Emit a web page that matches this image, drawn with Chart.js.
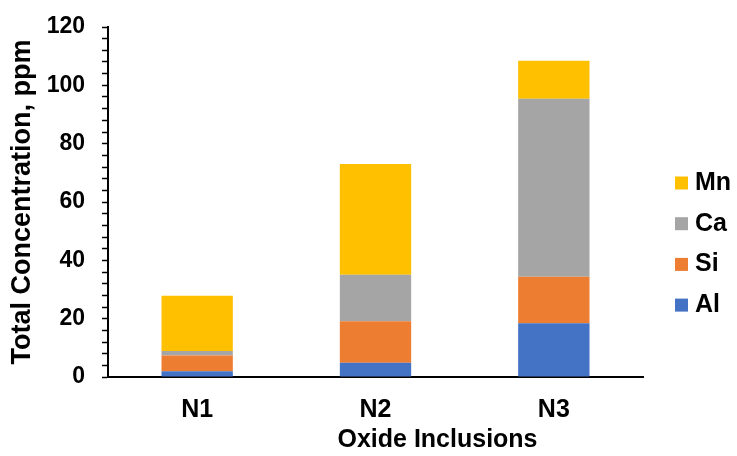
<!DOCTYPE html>
<html>
<head>
<meta charset="utf-8">
<script src="https://cdn.jsdelivr.net/npm/chart.js@4/dist/chart.umd.min.js"></script>
<style>
  html, body { margin: 0; padding: 0; background: #ffffff; }
  #wrap { width: 737px; height: 456px; }
</style>
</head>
<body>
<div id="wrap"><canvas id="c" width="737" height="456"></canvas></div>
<script>
// Oxide inclusion concentrations (ppm) per sample
const categories = ['N1', 'N2', 'N3'];
const alValues = [2.0, 4.9, 18.4];
const siValues = [5.4, 14.2, 16.0];
const caValues = [1.5, 16.0, 61.0];
const mnValues = [19.0, 37.9, 13.0];
const yTicks = [0, 20, 40, 60, 80, 100, 120];
const xTitle = 'Oxide Inclusions';

const FONT = "'Liberation Sans', Arial, sans-serif";

// Legend at the right of the plot; top item is the last stacked series
const sideLegend = {
  id: 'sideLegend',
  afterDraw(chart) {
    const ctx = chart.ctx;
    const items = chart.data.datasets.slice().reverse();
    const x0 = 675, yStart = 183, gap = 40.7, box = 13;
    ctx.save();
    ctx.font = "bold 25px " + FONT;
    ctx.textBaseline = 'middle';
    ctx.textAlign = 'left';
    items.forEach((ds, i) => {
      const y = yStart + i * gap;
      ctx.fillStyle = ds.backgroundColor;
      ctx.fillRect(x0, y - box / 2, box, box);
      ctx.fillStyle = '#000000';
      ctx.fillText(ds.label, x0 + 20, y);
    });
    ctx.restore();
  }
};

// Category axis title, placed below the tick labels
const bottomTitle = {
  id: 'bottomTitle',
  afterDraw(chart) {
    const ctx = chart.ctx;
    const area = chart.chartArea;
    ctx.save();
    ctx.font = "bold 25px " + FONT;
    ctx.fillStyle = '#000000';
    ctx.textAlign = 'center';
    ctx.textBaseline = 'middle';
    ctx.fillText(xTitle, (area.left + area.right) / 2 + 62, area.bottom + 63);
    ctx.restore();
  }
};

new Chart(document.getElementById('c'), {
  type: 'bar',
  data: {
    labels: categories,
    datasets: [
      { label: 'Al', data: alValues, backgroundColor: '#4472C4' },
      { label: 'Si', data: siValues, backgroundColor: '#ED7D31' },
      { label: 'Ca', data: caValues, backgroundColor: '#A5A5A5' },
      { label: 'Mn', data: mnValues, backgroundColor: '#FFC000' }
    ]
  },
  options: {
    responsive: false,
    animation: false,
    devicePixelRatio: 1,
    layout: { padding: { top: 27, right: 94, left: 0, bottom: 0 } },
    datasets: { bar: { categoryPercentage: 1.0, barPercentage: 0.4, borderWidth: 0 } },
    plugins: {
      legend: { display: false },
      tooltip: { enabled: false }
    },
    scales: {
      x: {
        stacked: true,
        grid: { display: false, drawTicks: false },
        border: { display: true, color: '#000000', width: 2 },
        ticks: { color: '#000000', font: { family: FONT, size: 25, weight: 'bold' }, padding: 18 },
        afterFit(scale) { scale.height = 79; }
      },
      y: {
        stacked: true,
        min: 0,
        max: 120,
        afterBuildTicks(scale) {
          // major ticks every 20 with minor ticks every 4
          const t = [];
          for (let v = 0; v <= 120; v += 4) t.push({ value: v });
          scale.ticks = t;
        },
        grid: {
          drawOnChartArea: false,
          drawTicks: true,
          tickLength: 6,
          tickWidth: 1.5,
          color: '#000000'
        },
        border: { display: true, color: '#000000', width: 2 },
        ticks: {
          autoSkip: false,
          color: '#000000',
          padding: 17,
          font: { family: FONT, size: 23, weight: 'bold' },
          callback: (v) => (yTicks.includes(v) ? String(v) : '')
        },
        title: {
          display: true,
          text: 'Total Concentration, ppm',
          color: '#000000',
          font: { family: FONT, size: 27, weight: 'bold' },
          padding: { top: 6, bottom: 2 }
        },
        afterFit(scale) {
          scale.width = 108;
          scale.paddingTop = 0;
          scale.paddingBottom = 0;
        }
      }
    }
  },
  plugins: [sideLegend, bottomTitle]
});
</script>
</body>
</html>
